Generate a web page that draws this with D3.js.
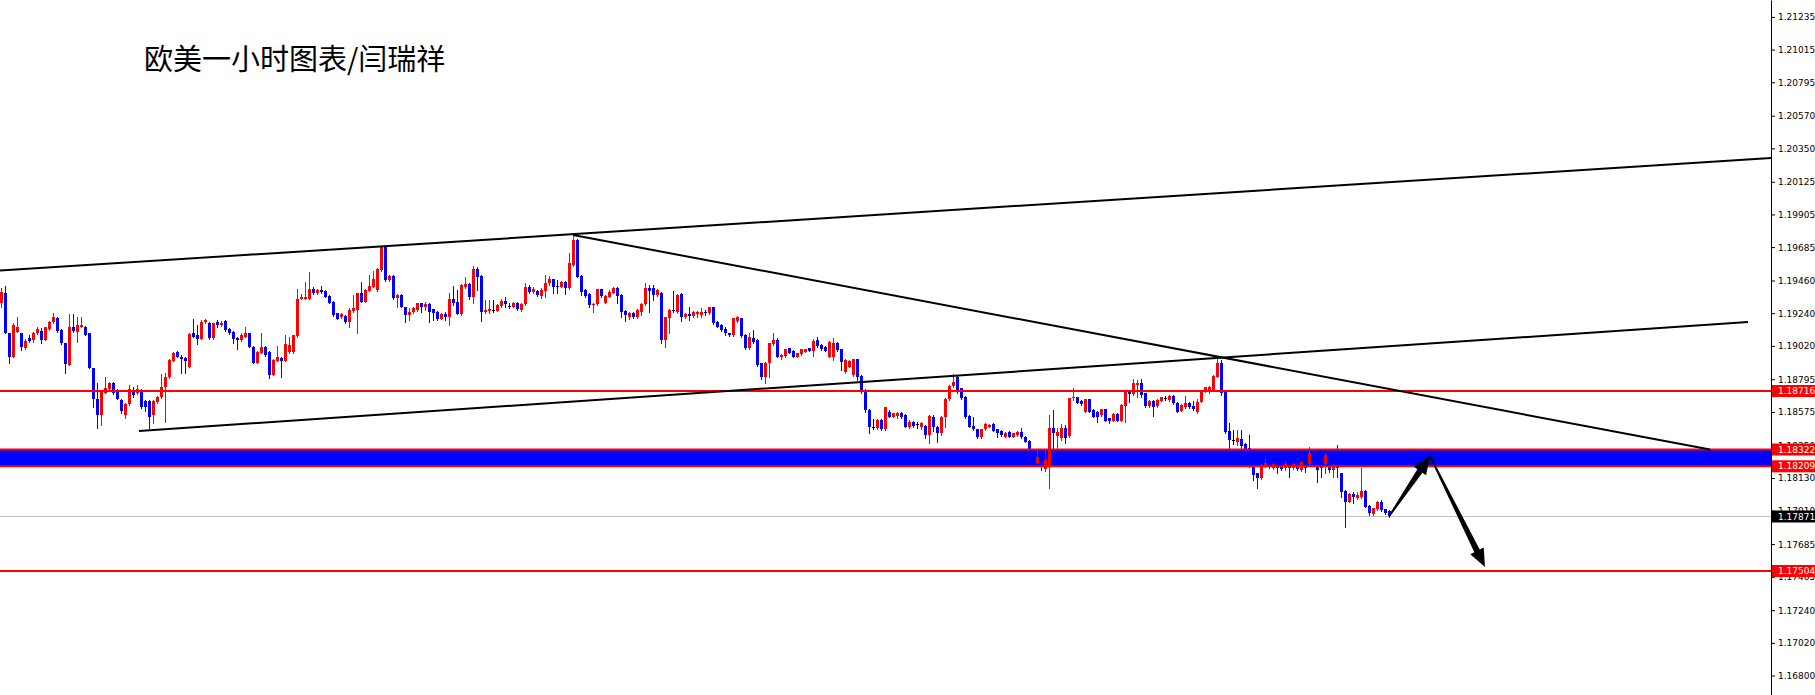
<!DOCTYPE html>
<html><head><meta charset="utf-8">
<script src="https://cdn.jsdelivr.net/npm/d3@7"></script>
<style>html,body{margin:0;padding:0;background:#fff;overflow:hidden}</style>
</head><body>
<svg id="chart" width="1815" height="695"></svg>
<script>
const chartTitle = "欧美一小时图表/闫瑞祥";

const openP = [
1.19306,1.19373,1.19104,1.18947,1.19115,1.19104,1.19003,1.19070,1.19059,1.19104,
1.19122,1.19059,1.19131,1.19183,1.19205,1.19126,1.19037,1.18893,1.19149,1.19115,
1.19149,1.19149,1.19104,1.18868,1.18664,1.18554,1.18700,1.18729,1.18767,1.18722,
1.18655,1.18554,1.18628,1.18711,1.18700,1.18722,1.18651,1.18646,1.18554,1.18644,
1.18673,1.18740,1.18808,1.18920,1.18978,1.18947,1.18938,1.18879,1.19104,1.19095,
1.19068,1.19180,1.19176,1.19070,1.19180,1.19162,1.19189,1.19135,1.19113,1.19073,
1.19059,1.19082,1.19104,1.19014,1.18906,1.18974,1.19014,1.18978,1.18826,1.18920,
1.18938,1.18920,1.18978,1.18978,1.19086,1.19337,1.19337,1.19337,1.19405,1.19373,
1.19396,1.19391,1.19355,1.19315,1.19239,1.19212,1.19221,1.19180,1.19252,1.19261,
1.19378,1.19317,1.19391,1.19418,1.19396,1.19531,1.19688,1.19463,1.19490,1.19340,
1.19362,1.19284,1.19228,1.19250,1.19261,1.19306,1.19284,1.19302,1.19266,1.19250,
1.19203,1.19235,1.19217,1.19333,1.19318,1.19235,1.19419,1.19437,1.19347,1.19540,
1.19491,1.19250,1.19253,1.19261,1.19257,1.19288,1.19324,1.19290,1.19284,1.19311,
1.19261,1.19302,1.19414,1.19385,1.19392,1.19356,1.19392,1.19441,1.19468,1.19423,
1.19419,1.19452,1.19407,1.19565,1.19733,1.19491,1.19396,1.19369,1.19295,1.19302,
1.19401,1.19311,1.19351,1.19378,1.19407,1.19362,1.19257,1.19212,1.19243,1.19212,
1.19250,1.19302,1.19407,1.19407,1.19362,1.19378,1.19059,1.19205,1.19261,1.19250,
1.19369,1.19212,1.19234,1.19221,1.19234,1.19225,1.19250,1.19239,1.19279,1.19183,
1.19160,1.19135,1.19104,1.19091,1.19189,1.19205,1.19093,1.19003,1.19070,1.19059,
1.18902,1.18812,1.18902,1.19032,1.19059,1.18947,1.18951,1.19003,1.18987,1.18947,
1.18965,1.18981,1.19003,1.18987,1.19059,1.19025,1.19014,1.18947,1.18943,1.19041,
1.18997,1.18846,1.18880,1.18824,1.18929,1.18817,1.18723,1.18588,1.18476,1.18464,
1.18521,1.18458,1.18577,1.18543,1.18548,1.18565,1.18554,1.18476,1.18509,1.18494,
1.18471,1.18480,1.18420,1.18543,1.18476,1.18431,1.18539,1.18660,1.18750,1.18812,
1.18734,1.18678,1.18548,1.18480,1.18458,1.18404,1.18458,1.18476,1.18494,1.18458,
1.18449,1.18408,1.18442,1.18408,1.18420,1.18442,1.18408,1.18381,1.18319,1.18233,
1.18274,1.18190,1.18207,1.18465,1.18413,1.18397,1.18465,1.18413,1.18667,1.18674,
1.18651,1.18577,1.18660,1.18588,1.18577,1.18555,1.18593,1.18532,1.18516,1.18561,
1.18516,1.18615,1.18712,1.18696,1.18757,1.18768,1.18701,1.18615,1.18651,1.18615,
1.18651,1.18667,1.18656,1.18682,1.18638,1.18584,1.18606,1.18638,1.18615,1.18577,
1.18644,1.18712,1.18718,1.18723,1.18813,1.18902,1.18712,1.18449,1.18386,1.18375,
1.18390,1.18359,1.18330,1.18206,1.18161,1.18128,1.18211,1.18211,1.18195,1.18211,
1.18211,1.18195,1.18211,1.18195,1.18211,1.18184,1.18211,1.18224,1.18296,1.18211,
1.18211,1.18224,1.18211,1.18184,1.18224,1.18161,1.18045,1.17971,1.18022,1.17993,
1.18004,1.18045,1.17942,1.17888,1.17919,1.17971,1.17919,1.17910];

const highP = [
1.19407,1.19423,1.19104,1.19171,1.19216,1.19104,1.19064,1.19093,1.19115,1.19144,
1.19138,1.19149,1.19189,1.19239,1.19212,1.19131,1.19041,1.19234,1.19234,1.19216,
1.19216,1.19153,1.19108,1.18868,1.18772,1.18722,1.18812,1.18778,1.18778,1.18727,
1.18659,1.18633,1.18756,1.18745,1.18754,1.18731,1.18655,1.18655,1.18655,1.18682,
1.18830,1.18835,1.18929,1.18981,1.18987,1.18956,1.18947,1.19104,1.19203,1.19158,
1.19194,1.19203,1.19183,1.19176,1.19194,1.19189,1.19194,1.19140,1.19117,1.19077,
1.19104,1.19144,1.19108,1.19019,1.18983,1.19104,1.19019,1.18983,1.18929,1.19019,
1.18942,1.19093,1.19082,1.19095,1.19400,1.19369,1.19450,1.19519,1.19414,1.19400,
1.19423,1.19396,1.19360,1.19320,1.19243,1.19239,1.19225,1.19272,1.19362,1.19378,
1.19452,1.19400,1.19497,1.19522,1.19542,1.19692,1.19699,1.19495,1.19495,1.19367,
1.19367,1.19284,1.19273,1.19279,1.19311,1.19311,1.19318,1.19306,1.19271,1.19255,
1.19239,1.19250,1.19374,1.19423,1.19396,1.19437,1.19486,1.19441,1.19558,1.19549,
1.19495,1.19329,1.19329,1.19329,1.19300,1.19333,1.19347,1.19306,1.19318,1.19315,
1.19306,1.19441,1.19430,1.19414,1.19396,1.19407,1.19497,1.19491,1.19473,1.19464,
1.19459,1.19457,1.19643,1.19767,1.19737,1.19495,1.19401,1.19374,1.19306,1.19405,
1.19405,1.19360,1.19396,1.19414,1.19414,1.19367,1.19261,1.19250,1.19248,1.19266,
1.19311,1.19441,1.19430,1.19430,1.19400,1.19385,1.19216,1.19266,1.19391,1.19367,
1.19373,1.19239,1.19279,1.19254,1.19254,1.19272,1.19261,1.19284,1.19284,1.19187,
1.19165,1.19144,1.19109,1.19210,1.19221,1.19210,1.19097,1.19104,1.19126,1.19064,
1.18906,1.18911,1.19041,1.19104,1.19070,1.18963,1.19001,1.19008,1.18992,1.18974,
1.19001,1.19001,1.19008,1.19064,1.19077,1.19030,1.19019,1.19053,1.19071,1.19046,
1.19001,1.18929,1.18925,1.18934,1.18934,1.18821,1.18727,1.18592,1.18525,1.18525,
1.18525,1.18611,1.18588,1.18570,1.18577,1.18577,1.18559,1.18521,1.18514,1.18509,
1.18509,1.18485,1.18554,1.18554,1.18480,1.18548,1.18666,1.18756,1.18831,1.18817,
1.18738,1.18682,1.18552,1.18543,1.18462,1.18462,1.18503,1.18491,1.18498,1.18462,
1.18453,1.18440,1.18447,1.18435,1.18447,1.18464,1.18413,1.18386,1.18323,1.18319,
1.18307,1.18319,1.18555,1.18588,1.18465,1.18494,1.18487,1.18671,1.18734,1.18678,
1.18656,1.18665,1.18665,1.18593,1.18581,1.18597,1.18597,1.18537,1.18566,1.18566,
1.18626,1.18716,1.18716,1.18795,1.18790,1.18795,1.18705,1.18656,1.18656,1.18660,
1.18678,1.18682,1.18687,1.18687,1.18642,1.18626,1.18682,1.18642,1.18651,1.18660,
1.18716,1.18745,1.18750,1.18822,1.18936,1.18925,1.18716,1.18498,1.18453,1.18453,
1.18453,1.18364,1.18420,1.18218,1.18166,1.18222,1.18262,1.18229,1.18229,1.18215,
1.18215,1.18247,1.18215,1.18229,1.18215,1.18247,1.18215,1.18337,1.18310,1.18215,
1.18215,1.18296,1.18290,1.18222,1.18352,1.18166,1.18049,1.18027,1.18038,1.18038,
1.18195,1.18049,1.17946,1.17930,1.17975,1.17982,1.17924,1.17915];

const lowP = [
1.19284,1.19104,1.18906,1.18947,1.19115,1.18992,1.18996,1.19048,1.19048,1.19100,
1.19037,1.19059,1.19126,1.19176,1.19115,1.19032,1.18839,1.18893,1.19115,1.19048,
1.19144,1.19093,1.18868,1.18606,1.18464,1.18487,1.18700,1.18722,1.18695,1.18659,
1.18565,1.18532,1.18624,1.18677,1.18695,1.18599,1.18583,1.18464,1.18498,1.18637,
1.18666,1.18509,1.18801,1.18915,1.18942,1.18835,1.18835,1.18875,1.19077,1.19032,
1.19064,1.19176,1.19064,1.19064,1.19149,1.19153,1.19122,1.19100,1.19037,1.18996,
1.19055,1.19077,1.19010,1.18902,1.18902,1.18969,1.18951,1.18801,1.18821,1.18915,
1.18808,1.18915,1.18974,1.18974,1.19082,1.19333,1.19333,1.19333,1.19369,1.19369,
1.19378,1.19346,1.19306,1.19221,1.19198,1.19207,1.19176,1.19149,1.19248,1.19104,
1.19313,1.19313,1.19387,1.19414,1.19391,1.19526,1.19459,1.19459,1.19335,1.19279,
1.19279,1.19183,1.19194,1.19244,1.19257,1.19250,1.19261,1.19183,1.19194,1.19194,
1.19199,1.19194,1.19160,1.19295,1.19235,1.19231,1.19407,1.19333,1.19306,1.19396,
1.19190,1.19239,1.19239,1.19250,1.19252,1.19284,1.19284,1.19273,1.19279,1.19261,
1.19257,1.19295,1.19374,1.19374,1.19356,1.19340,1.19351,1.19430,1.19374,1.19374,
1.19414,1.19369,1.19401,1.19558,1.19482,1.19363,1.19351,1.19284,1.19250,1.19295,
1.19351,1.19306,1.19347,1.19373,1.19311,1.19212,1.19189,1.19198,1.19207,1.19205,
1.19228,1.19295,1.19250,1.19329,1.19355,1.19037,1.19014,1.19104,1.19250,1.19243,
1.19189,1.19205,1.19194,1.19216,1.19212,1.19212,1.19228,1.19234,1.19167,1.19144,
1.19122,1.19093,1.19086,1.19086,1.19183,1.19082,1.18996,1.18996,1.19037,1.18884,
1.18794,1.18767,1.18812,1.19025,1.18942,1.18929,1.18947,1.18969,1.18942,1.18942,
1.18960,1.18976,1.18983,1.18951,1.19010,1.18992,1.18983,1.18943,1.18925,1.18988,
1.18857,1.18839,1.18875,1.18819,1.18790,1.18700,1.18577,1.18435,1.18458,1.18460,
1.18453,1.18453,1.18539,1.18539,1.18532,1.18532,1.18471,1.18464,1.18476,1.18464,
1.18458,1.18397,1.18363,1.18449,1.18370,1.18420,1.18476,1.18655,1.18745,1.18705,
1.18662,1.18534,1.18471,1.18453,1.18399,1.18399,1.18453,1.18471,1.18444,1.18408,
1.18415,1.18404,1.18404,1.18404,1.18415,1.18397,1.18370,1.18307,1.18225,1.18229,
1.18184,1.18175,1.18061,1.18319,1.18319,1.18386,1.18364,1.18409,1.18656,1.18633,
1.18624,1.18572,1.18572,1.18539,1.18510,1.18550,1.18512,1.18503,1.18512,1.18512,
1.18512,1.18510,1.18644,1.18689,1.18678,1.18678,1.18611,1.18611,1.18548,1.18611,
1.18647,1.18656,1.18651,1.18629,1.18572,1.18579,1.18599,1.18602,1.18588,1.18570,
1.18640,1.18707,1.18705,1.18718,1.18808,1.18689,1.18435,1.18319,1.18359,1.18352,
1.18323,1.18314,1.18202,1.18117,1.18061,1.18123,1.18206,1.18195,1.18190,1.18166,
1.18184,1.18184,1.18139,1.18190,1.18184,1.18179,1.18173,1.18218,1.18210,1.18105,
1.18139,1.18161,1.18173,1.18139,1.18139,1.18004,1.17802,1.17966,1.17959,1.17986,
1.17993,1.17933,1.17881,1.17883,1.17915,1.17910,1.17888,1.17866];

const closeP = [
1.19385,1.19104,1.18947,1.19160,1.19144,1.19014,1.19055,1.19055,1.19104,1.19131,
1.19059,1.19144,1.19183,1.19212,1.19122,1.19037,1.18897,1.19149,1.19122,1.19158,
1.19162,1.19093,1.18868,1.18659,1.18552,1.18718,1.18734,1.18772,1.18700,1.18664,
1.18583,1.18628,1.18731,1.18689,1.18731,1.18606,1.18610,1.18543,1.18646,1.18677,
1.18745,1.18808,1.18924,1.18969,1.18947,1.18929,1.18915,1.19100,1.19082,1.19068,
1.19180,1.19194,1.19070,1.19171,1.19158,1.19176,1.19126,1.19108,1.19068,1.19059,
1.19095,1.19104,1.19014,1.18906,1.18978,1.19014,1.18956,1.18826,1.18924,1.18947,
1.18915,1.19032,1.19023,1.19091,1.19337,1.19351,1.19351,1.19405,1.19373,1.19396,
1.19385,1.19351,1.19311,1.19227,1.19203,1.19234,1.19180,1.19261,1.19272,1.19373,
1.19317,1.19396,1.19423,1.19472,1.19535,1.19688,1.19463,1.19490,1.19340,1.19362,
1.19284,1.19228,1.19250,1.19273,1.19306,1.19284,1.19302,1.19250,1.19239,1.19199,
1.19235,1.19212,1.19333,1.19306,1.19235,1.19430,1.19437,1.19347,1.19535,1.19486,
1.19250,1.19261,1.19266,1.19261,1.19295,1.19324,1.19302,1.19288,1.19306,1.19266,
1.19302,1.19414,1.19385,1.19401,1.19360,1.19396,1.19446,1.19468,1.19419,1.19419,
1.19452,1.19407,1.19576,1.19733,1.19486,1.19385,1.19356,1.19295,1.19302,1.19401,
1.19356,1.19356,1.19385,1.19409,1.19355,1.19250,1.19228,1.19243,1.19212,1.19261,
1.19302,1.19407,1.19391,1.19362,1.19396,1.19059,1.19212,1.19261,1.19257,1.19362,
1.19212,1.19234,1.19221,1.19250,1.19250,1.19250,1.19239,1.19279,1.19171,1.19149,
1.19126,1.19104,1.19091,1.19205,1.19212,1.19086,1.19003,1.19077,1.19048,1.18891,
1.18812,1.18906,1.19037,1.19059,1.18947,1.18958,1.18996,1.18974,1.18947,1.18969,
1.18996,1.18996,1.18987,1.19055,1.19019,1.18996,1.18988,1.19048,1.19041,1.18992,
1.18913,1.18925,1.18920,1.18929,1.18812,1.18723,1.18588,1.18476,1.18476,1.18521,
1.18458,1.18606,1.18543,1.18565,1.18570,1.18539,1.18476,1.18509,1.18480,1.18494,
1.18503,1.18420,1.18548,1.18476,1.18431,1.18539,1.18660,1.18750,1.18779,1.18723,
1.18666,1.18539,1.18476,1.18458,1.18404,1.18458,1.18494,1.18487,1.18449,1.18435,
1.18420,1.18435,1.18408,1.18431,1.18442,1.18408,1.18375,1.18319,1.18233,1.18274,
1.18206,1.18250,1.18465,1.18431,1.18442,1.18465,1.18397,1.18667,1.18678,1.18638,
1.18629,1.18660,1.18577,1.18543,1.18539,1.18593,1.18516,1.18516,1.18561,1.18516,
1.18622,1.18712,1.18696,1.18768,1.18768,1.18689,1.18615,1.18651,1.18606,1.18656,
1.18674,1.18667,1.18682,1.18633,1.18577,1.18622,1.18638,1.18606,1.18593,1.18644,
1.18712,1.18741,1.18741,1.18817,1.18907,1.18700,1.18442,1.18386,1.18386,1.18397,
1.18346,1.18323,1.18206,1.18150,1.18128,1.18218,1.18229,1.18211,1.18224,1.18195,
1.18188,1.18224,1.18195,1.18224,1.18188,1.18240,1.18195,1.18296,1.18211,1.18184,
1.18195,1.18285,1.18184,1.18218,1.18195,1.18038,1.17971,1.18022,1.18004,1.18016,
1.18045,1.17937,1.17892,1.17926,1.17971,1.17915,1.17892,1.17871];

const axisTicks = [1.21235,1.21015,1.20795,1.20570,1.20350,1.20125,1.19905,1.19685,1.19460,1.19240,
  1.19020,1.18795,1.18575,1.18350,1.18130,1.17910,1.17685,1.17465,1.17240,1.17020,1.16800];

const redLevels = [1.18716, 1.18322, 1.18209, 1.17504];
const bandLevels = [1.18322, 1.18209];
const currentPrice = 1.17871;

// trend lines: [bar index, price] pairs
const upperChannel = [[-0.25, 1.19527], [442.5, 1.20285]];
const downTrend = [[143, 1.19767], [427.25, 1.18322]];
const lowerChannel = [[34.5, 1.18447], [436.75, 1.19181]];
const arrowUp = [[347, 1.17871], [357.25, 1.18278]];
const arrowDown = [[357.25, 1.18278], [371, 1.17531]];

const W = 1815, H = 695, axisX = 1771;
const RED = '#ff0000', BLUE = '#0000ff';
const svg = d3.select('#chart');

const x = d3.scaleLinear().domain([0, openP.length - 1]).range([1, 1389]);
const y = d3.scaleLinear().domain([1.16669, 1.21349]).range([H, 0]);

svg.append('defs').append('clipPath').attr('id', 'plotclip')
  .append('rect').attr('x', 0).attr('y', 0).attr('width', axisX).attr('height', H);
const plot = svg.append('g').attr('clip-path', 'url(#plotclip)');

// blue band
plot.append('rect')
  .attr('x', 0).attr('width', axisX)
  .attr('y', y(bandLevels[0])).attr('height', y(bandLevels[1]) - y(bandLevels[0]))
  .attr('fill', BLUE);

// current price line
plot.append('line').attr('x1', 0).attr('x2', axisX)
  .attr('y1', Math.round(y(currentPrice)) + 0.5).attr('y2', Math.round(y(currentPrice)) + 0.5)
  .attr('stroke', '#c0c0c0').attr('stroke-width', 1);

// candles
const idx = d3.range(openP.length);
const colorOf = i => closeP[i] > openP[i] ? RED : (closeP[i] < openP[i] ? BLUE : '#000');
const cg = plot.append('g').attr('shape-rendering', 'crispEdges');
cg.selectAll('line.wick').data(idx).join('line').attr('class', 'wick')
  .attr('x1', i => Math.round(x(i)) + 0.5).attr('x2', i => Math.round(x(i)) + 0.5)
  .attr('y1', i => Math.round(y(highP[i]))).attr('y2', i => Math.round(y(lowP[i])) + 1)
  .attr('stroke', colorOf).attr('stroke-width', 1);
cg.selectAll('rect.body').data(idx).join('rect').attr('class', 'body')
  .attr('x', i => Math.round(x(i)) - 1).attr('width', 3)
  .attr('y', i => Math.round(y(Math.max(openP[i], closeP[i]))))
  .attr('height', i => Math.max(1, Math.round(y(Math.min(openP[i], closeP[i]))) - Math.round(y(Math.max(openP[i], closeP[i])))))
  .attr('fill', colorOf);

// red horizontal levels
plot.selectAll('line.level').data(redLevels).join('line').attr('class', 'level')
  .attr('x1', 0).attr('x2', axisX)
  .attr('y1', d => y(d)).attr('y2', d => y(d))
  .attr('stroke', RED).attr('stroke-width', 2);

// trend lines
const lineGen = d3.line().x(d => x(d[0])).y(d => y(d[1]));
plot.selectAll('path.trend').data([upperChannel, downTrend, lowerChannel]).join('path').attr('class', 'trend')
  .attr('d', lineGen).attr('fill', 'none').attr('stroke', '#000').attr('stroke-width', 2);

// arrows
function arrowPoly(seg) {
  const x0 = x(seg[0][0]), y0 = y(seg[0][1]), x1 = x(seg[1][0]), y1 = y(seg[1][1]);
  const dx = x1 - x0, dy = y1 - y0, L = Math.hypot(dx, dy);
  const ux = dx / L, uy = dy / L, nx = -uy, ny = ux;
  const hl = 18, hw = 7.5, s0 = 0.8, s1 = 3;
  const bx = x1 - ux * hl, by = y1 - uy * hl;
  return [[x0 + nx * s0, y0 + ny * s0], [bx + nx * s1, by + ny * s1], [bx + nx * hw, by + ny * hw], [x1, y1],
          [bx - nx * hw, by - ny * hw], [bx - nx * s1, by - ny * s1], [x0 - nx * s0, y0 - ny * s0]];
}
plot.selectAll('polygon.arrow').data([arrowUp, arrowDown]).join('polygon').attr('class', 'arrow')
  .attr('points', d => arrowPoly(d).map(p => p.join(',')).join(' '))
  .attr('fill', '#000');

// right axis
const axisG = svg.append('g').attr('transform', `translate(${axisX},0)`)
  .call(d3.axisRight(y).tickValues(axisTicks).tickSize(4).tickSizeOuter(0).tickPadding(3).tickFormat(d3.format('.5f')));
axisG.attr('font-family', '"DejaVu Sans", sans-serif').attr('font-size', 9);
axisG.select('.domain').attr('stroke', '#000');
axisG.selectAll('.tick line').attr('stroke', '#000');
axisG.selectAll('.tick text').attr('fill', '#000');

// price tags (drawn over the tick labels they cover, as in the reference)
const tags = redLevels.map(v => ({v, fill: RED})).concat([{v: currentPrice, fill: '#000'}]);
const tg = svg.append('g');
tg.selectAll('rect').data(tags).join('rect')
  .attr('x', axisX + 1).attr('width', W - axisX - 1)
  .attr('y', d => y(d.v) - 6).attr('height', 12).attr('fill', d => d.fill);
tg.selectAll('text').data(tags).join('text')
  .attr('x', axisX + 7).attr('y', d => y(d.v)).attr('dy', '0.34em')
  .attr('font-family', '"DejaVu Sans", sans-serif').attr('font-size', 9).attr('fill', '#fff')
  .text(d => d3.format('.5f')(d.v));

// title
svg.append('text').attr('x', 144).attr('y', 70)
  .attr('font-family', '"Noto Sans CJK SC", sans-serif').attr('font-size', 29).attr('fill', '#000')
  .text(chartTitle);
</script>
</body></html>
